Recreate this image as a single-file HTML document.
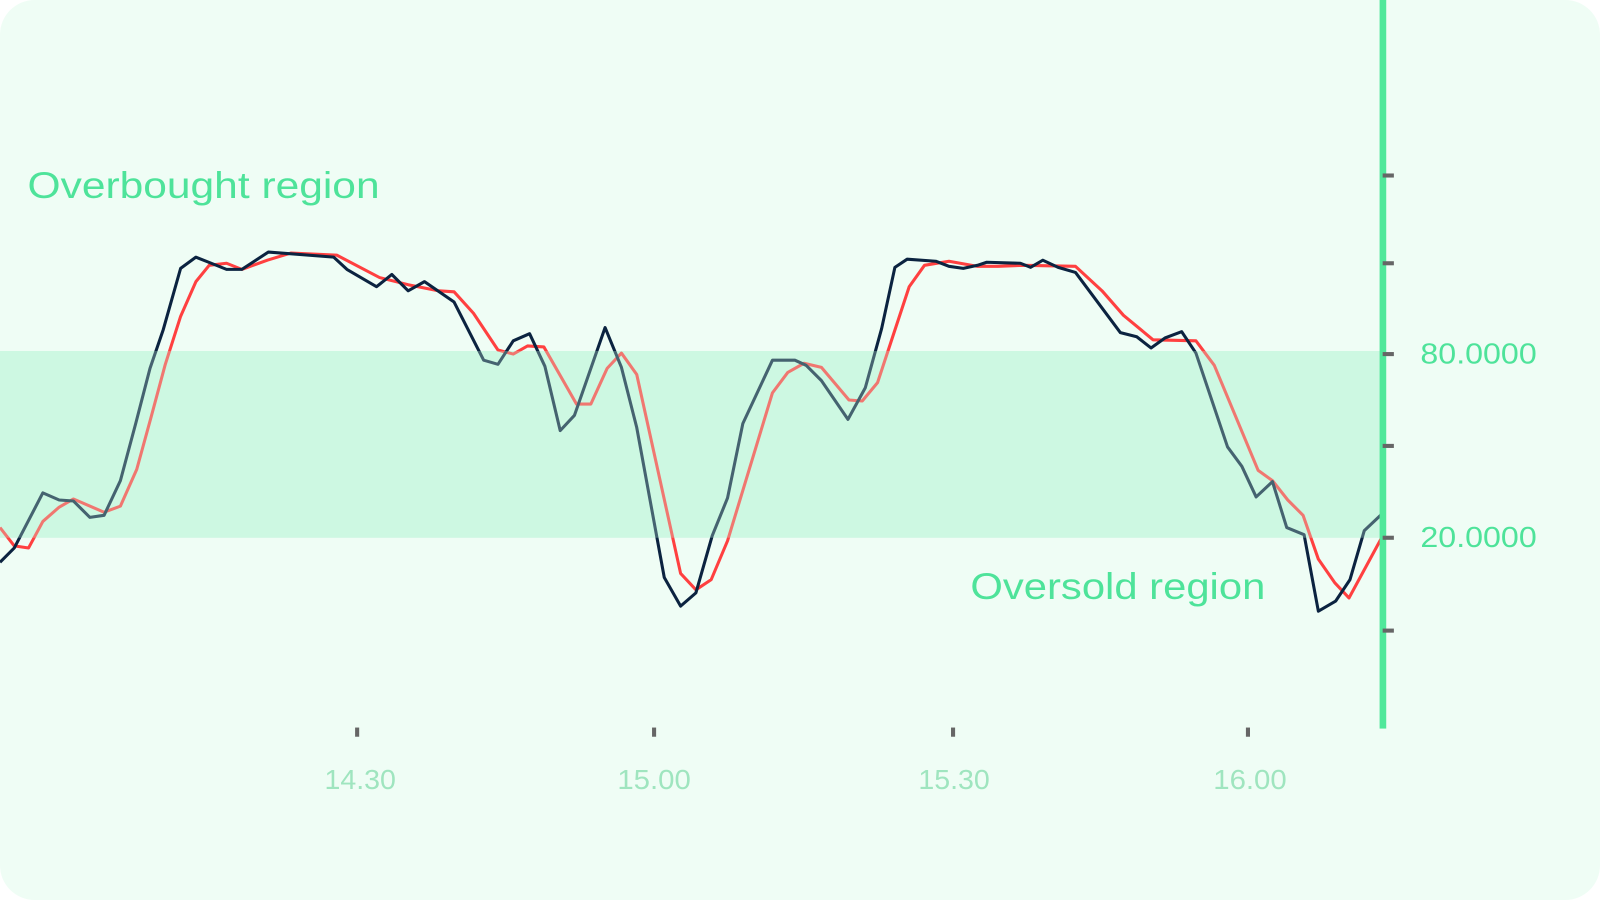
<!DOCTYPE html>
<html><head><meta charset="utf-8"><style>
html,body{margin:0;padding:0;background:#fff;}
svg{display:block;}
</style></head><body>
<svg width="1600" height="900" viewBox="0 0 1568 882" preserveAspectRatio="none" xmlns="http://www.w3.org/2000/svg">
<rect x="0" y="0" width="1568" height="882" rx="34" fill="#effdf5"/>
<rect x="0" y="344" width="1355" height="183" fill="#cdf8e2"/>
<g fill="none" stroke-width="3" stroke-linejoin="round">
<polyline stroke="#ff4040" points="0,517 14,535 28,537 42,511 58,497 72,489 102,502 118,496 134,460 148,409 162,357 177,310 192,276 205,260 222,258 237,264 262,255 285,248 330,250 372,272 400,279 430,285 445,286 464,307 488,343 503,347 517,339 533,340 565,396 579,396 595,361 609,346 624,367 667,562 682,578 697,568 713,530 757,385 772,365 788,356 805,360 832,392 845,393 860,375 891,281 906,260 930,256 958,261 978,261 1003,260 1054,261 1080,285 1101,309 1130,333 1172,334 1190,358 1233,461 1247,471 1262,490 1277,505 1292,548 1308,571 1322,586 1354,527"/>
<polyline stroke="#0b2340" points="0,551 14,537 42,483 58,490 72,491 88,507 102,505 118,471 133,415 147,361 160,323 177,263 192,252 207,258 222,264 237,264 263,247 327,252 340,264 369,281 384,269 400,285 416,276 445,296 474,353 488,357 503,334 519,327 534,359 549,422 563,407 593,321 609,360 624,419 651,566 667,594 682,581 698,525 713,488 728,415 757,353 779,353 790,358 805,373 831,411 848,380 864,322 877,262 889,254 917,256 930,261 944,263 958,260 967,257 1000,258 1010,262 1022,255 1037,262 1054,267 1098,326 1114,330 1128,341 1142,331 1158,325 1172,346 1203,438 1217,457 1231,487 1247,472 1261,517 1278,524 1292,599 1309,589 1323,568 1337,520 1354,504"/>
</g>
<rect x="0" y="344" width="1355" height="183" fill="rgba(205,248,226,0.3)"/>
<rect x="1352" y="0" width="6.5" height="714" fill="#50e89a"/>
<g fill="#666">
<rect x="1355" y="170" width="11" height="4"/>
<rect x="1355" y="256" width="11" height="4"/>
<rect x="1355" y="345" width="11" height="4"/>
<rect x="1355" y="435" width="11" height="4"/>
<rect x="1355" y="525" width="11" height="4"/>
<rect x="1355" y="616" width="11" height="4"/>
<rect x="348" y="713" width="4" height="9"/>
<rect x="639" y="713" width="4" height="9"/>
<rect x="932" y="713" width="4" height="9"/>
<rect x="1221" y="713" width="4" height="9"/>
</g>
<g font-family="Liberation Sans, sans-serif">
<text x="27" y="194" font-size="36" fill="#4ee39a" textLength="345" lengthAdjust="spacingAndGlyphs">Overbought region</text>
<text x="951" y="587" font-size="36" fill="#4ee39a" textLength="289" lengthAdjust="spacingAndGlyphs">Oversold region</text>
<text x="1392" y="356" font-size="28" fill="#4ee39a" textLength="114" lengthAdjust="spacingAndGlyphs">80.0000</text>
<text x="1392" y="536" font-size="28" fill="#4ee39a" textLength="114" lengthAdjust="spacingAndGlyphs">20.0000</text>
<g font-size="27" fill="#9fe5bf">
<text x="318" y="773" textLength="70" lengthAdjust="spacingAndGlyphs">14.30</text>
<text x="605" y="773" textLength="72" lengthAdjust="spacingAndGlyphs">15.00</text>
<text x="900" y="773" textLength="70" lengthAdjust="spacingAndGlyphs">15.30</text>
<text x="1189" y="773" textLength="72" lengthAdjust="spacingAndGlyphs">16.00</text>
</g>
</g>
</svg>
</body></html>
